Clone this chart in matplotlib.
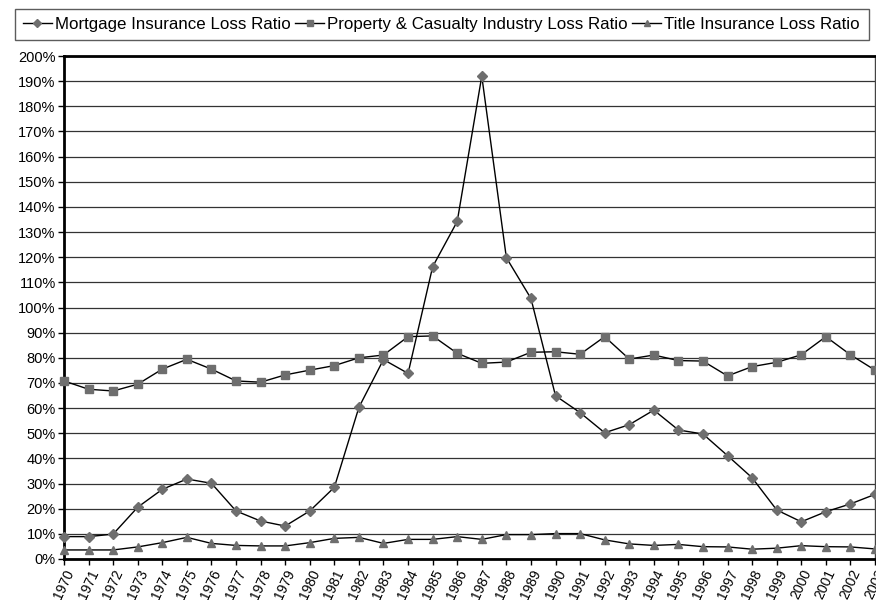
import matplotlib
matplotlib.use("Agg")
import matplotlib.pyplot as plt
from matplotlib.ticker import FuncFormatter, MultipleLocator

years = list(range(1970, 2004))
mortgage = [8.9, 8.9, 9.9, 20.6, 27.7, 31.8, 30.1, 19.1, 15.1, 13.1, 19.1, 28.5, 60.3, 79.3,
            73.8, 116.2, 134.2, 192.0, 119.8, 103.6, 64.9, 58.2, 50.2, 53.4, 59.2, 51.3,
            49.7, 41.1, 32.3, 19.5, 14.8, 18.8, 21.9, 25.7]
pc = [70.8, 67.5, 66.8, 69.5, 75.5, 79.4, 75.5, 70.8, 70.3, 73.2, 75.1, 76.9, 80.0, 81.1,
      88.4, 88.7, 81.8, 77.8, 78.3, 82.2, 82.4, 81.4, 88.4, 79.5, 81.1, 78.9, 78.7, 72.8,
      76.5, 78.2, 81.2, 88.4, 81.2, 75.1]
title = [3.6, 3.6, 3.6, 4.8, 6.5, 8.6, 6.2, 5.4, 5.2, 5.2, 6.5, 8.2, 8.6, 6.2, 7.8, 7.8,
         8.9, 7.8, 9.7, 9.7, 10.1, 10.1, 7.6, 6.0, 5.4, 5.8, 4.9, 4.8, 3.9, 4.3, 5.3, 4.9,
         4.8, 4.0]
labels = ["Mortgage Insurance Loss Ratio", "Property & Casualty Industry Loss Ratio",
          "Title Insurance Loss Ratio"]

plt.rcParams['font.family'] = ['Liberation Sans', 'DejaVu Sans']

fig = plt.figure(figsize=(8.76, 6.0), dpi=100)
ax = fig.add_axes([64/876, 41/600, 811/876, 503/600])

mcol = '#6e6e6e'
l1, = ax.plot(years, mortgage, color='black', lw=1.0, marker='D', ms=5,
              mfc=mcol, mec=mcol, clip_on=False, zorder=3)
l2, = ax.plot(years, pc, color='black', lw=1.0, marker='s', ms=5.8,
              mfc=mcol, mec=mcol, clip_on=False, zorder=3)
l3, = ax.plot(years, title, color='black', lw=1.0, marker='^', ms=6.2,
              mfc=mcol, mec=mcol, clip_on=False, zorder=3)

ax.set_xlim(1970, 2003)
ax.set_ylim(0, 200)
ax.yaxis.set_major_locator(MultipleLocator(10))
ax.yaxis.set_major_formatter(FuncFormatter(lambda v, p: f"{int(round(v))}%"))
ax.set_xticks(years)
ax.set_xticklabels([str(y) for y in years], rotation=65, ha='right',
                   rotation_mode='anchor', fontsize=10)
ax.tick_params(axis='y', labelsize=10.5, length=4, width=1, direction='out', pad=2)
ax.tick_params(axis='x', length=4, width=1, direction='out', pad=2)

ax.grid(axis='y', color='#333333', lw=0.9)
ax.set_axisbelow(True)
for s in ['left', 'bottom', 'top']:
    ax.spines[s].set_linewidth(2)
    ax.spines[s].set_color('black')
ax.spines['right'].set_linewidth(1)
ax.spines['right'].set_color('#444444')

leg = fig.legend([l1, l2, l3], labels, loc='center', bbox_to_anchor=(441.5/876, 1 - 24.5/600),
                 ncol=3, frameon=True, fancybox=False, edgecolor='#333333',
                 fontsize=12.2, handlelength=1.7, handletextpad=0.2, columnspacing=0.25,
                 borderpad=0.5, borderaxespad=0, markerscale=0.75)
leg.get_frame().set_linewidth(1)

fig.savefig("out.png", dpi=100)
